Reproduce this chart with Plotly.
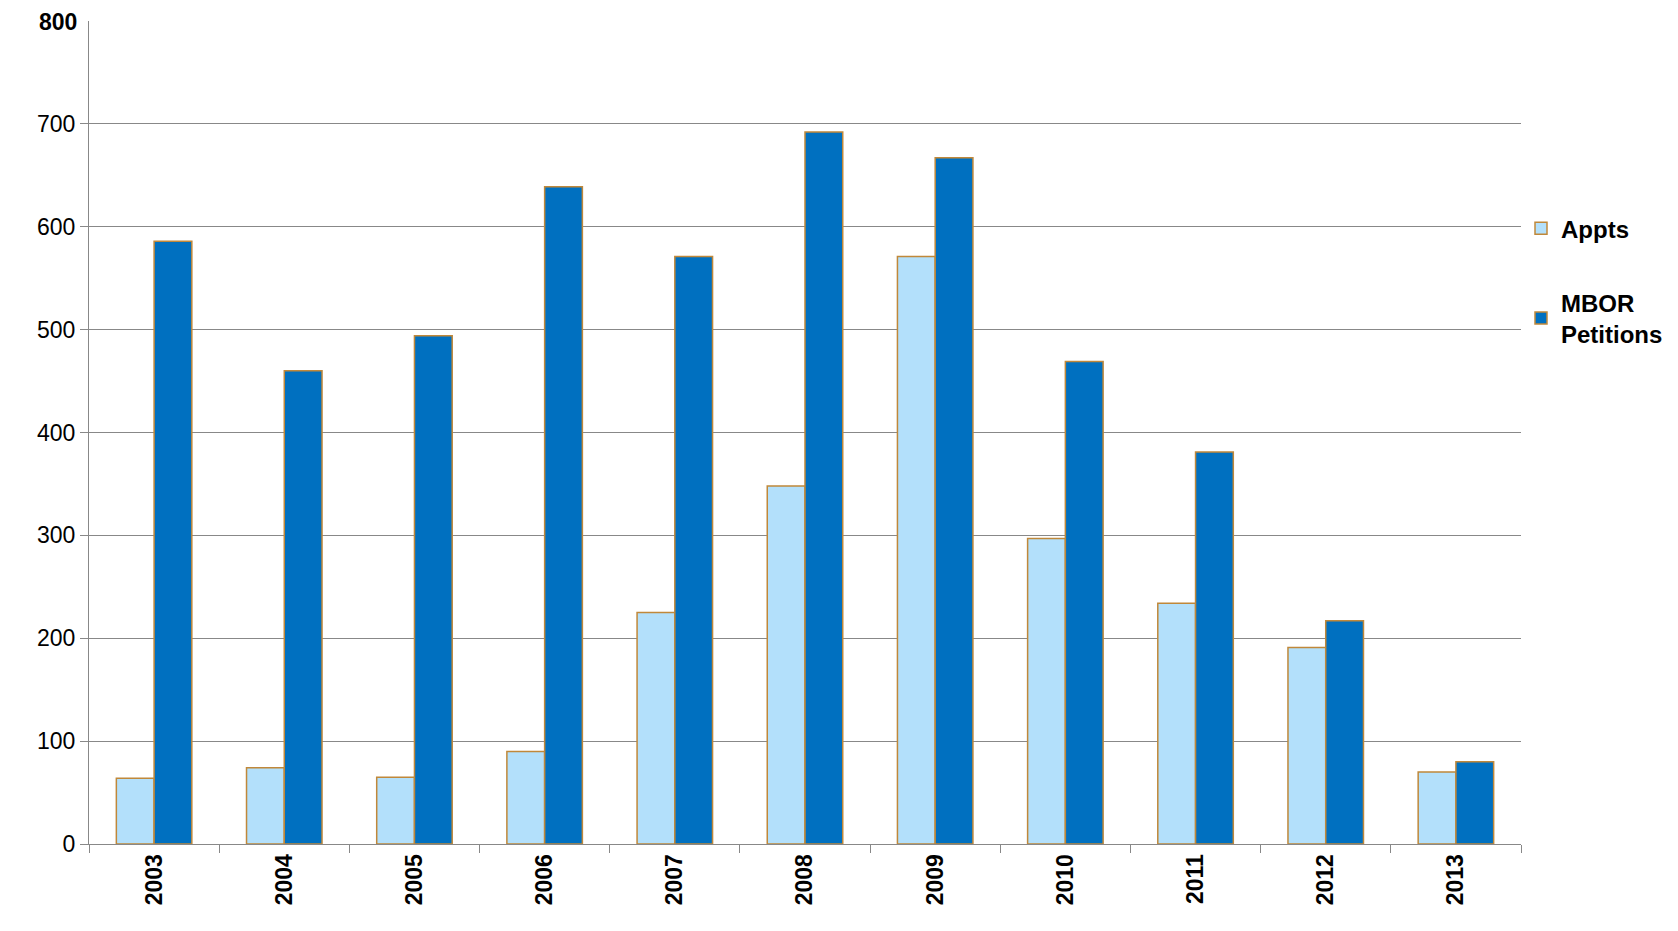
import plotly.graph_objects as go

years = ["2003", "2004", "2005", "2006", "2007", "2008", "2009", "2010", "2011", "2012", "2013"]
appts = [64, 74, 65, 90, 225, 348, 571, 297, 234, 191, 70]
mbor = [586, 460, 494, 639, 571, 692, 667, 469, 381, 217, 80]
y_max = 800
y_ticks = [0, 100, 200, 300, 400, 500, 600, 700, 800]

fig = go.Figure()
fig.add_trace(go.Bar(x=years, y=appts, name="<b>Appts</b>", legendgroup="a",
                     marker=dict(color="#b3e0fb", line=dict(color="#c0883a", width=1.5))))
fig.add_trace(go.Bar(x=years, y=mbor, name="<b>MBOR</b><br><b>Petitions</b>", legendgroup="b",
                     marker=dict(color="#0070c0", line=dict(color="#c0883a", width=1.5))))

fig.update_layout(
    width=1678, height=931, barmode="group", bargap=0.42, bargroupgap=0,
    paper_bgcolor="white", plot_bgcolor="white",
    margin=dict(l=81, r=165, t=13, b=95),
    font=dict(family="Liberation Sans, Arial", size=23, color="black"),
    legend=dict(x=1.0, y=0.775, yanchor="top", font=dict(size=24), tracegroupgap=40,
                itemwidth=30),
)
# top tick label can be dropped by plotly near the page edge, so draw it as an annotation
fig.add_annotation(x=0, xref="paper", y=y_max, yref="y", text="<b>%d</b>" % y_max,
                   showarrow=False, xanchor="right", yanchor="middle", xshift=-10, yshift=-1,
                   font=dict(size=23))
fig.update_yaxes(range=[0, y_max], tickvals=y_ticks[:-1], showgrid=True, gridcolor="#888888", gridwidth=1,
                 showline=True, linecolor="#888888", ticks="outside", ticklen=8, tickcolor="#888888",
                 tickprefix="<b>", ticksuffix="</b>", tickfont=dict(size=23))
fig.update_xaxes(showline=True, linecolor="#888888", ticks="outside", ticklen=8, tickcolor="#888888",
                 tickson="boundaries", tickangle=-90, tickprefix="<b>", ticksuffix="</b>",
                 tickfont=dict(size=23))

fig.write_html("out.html")
